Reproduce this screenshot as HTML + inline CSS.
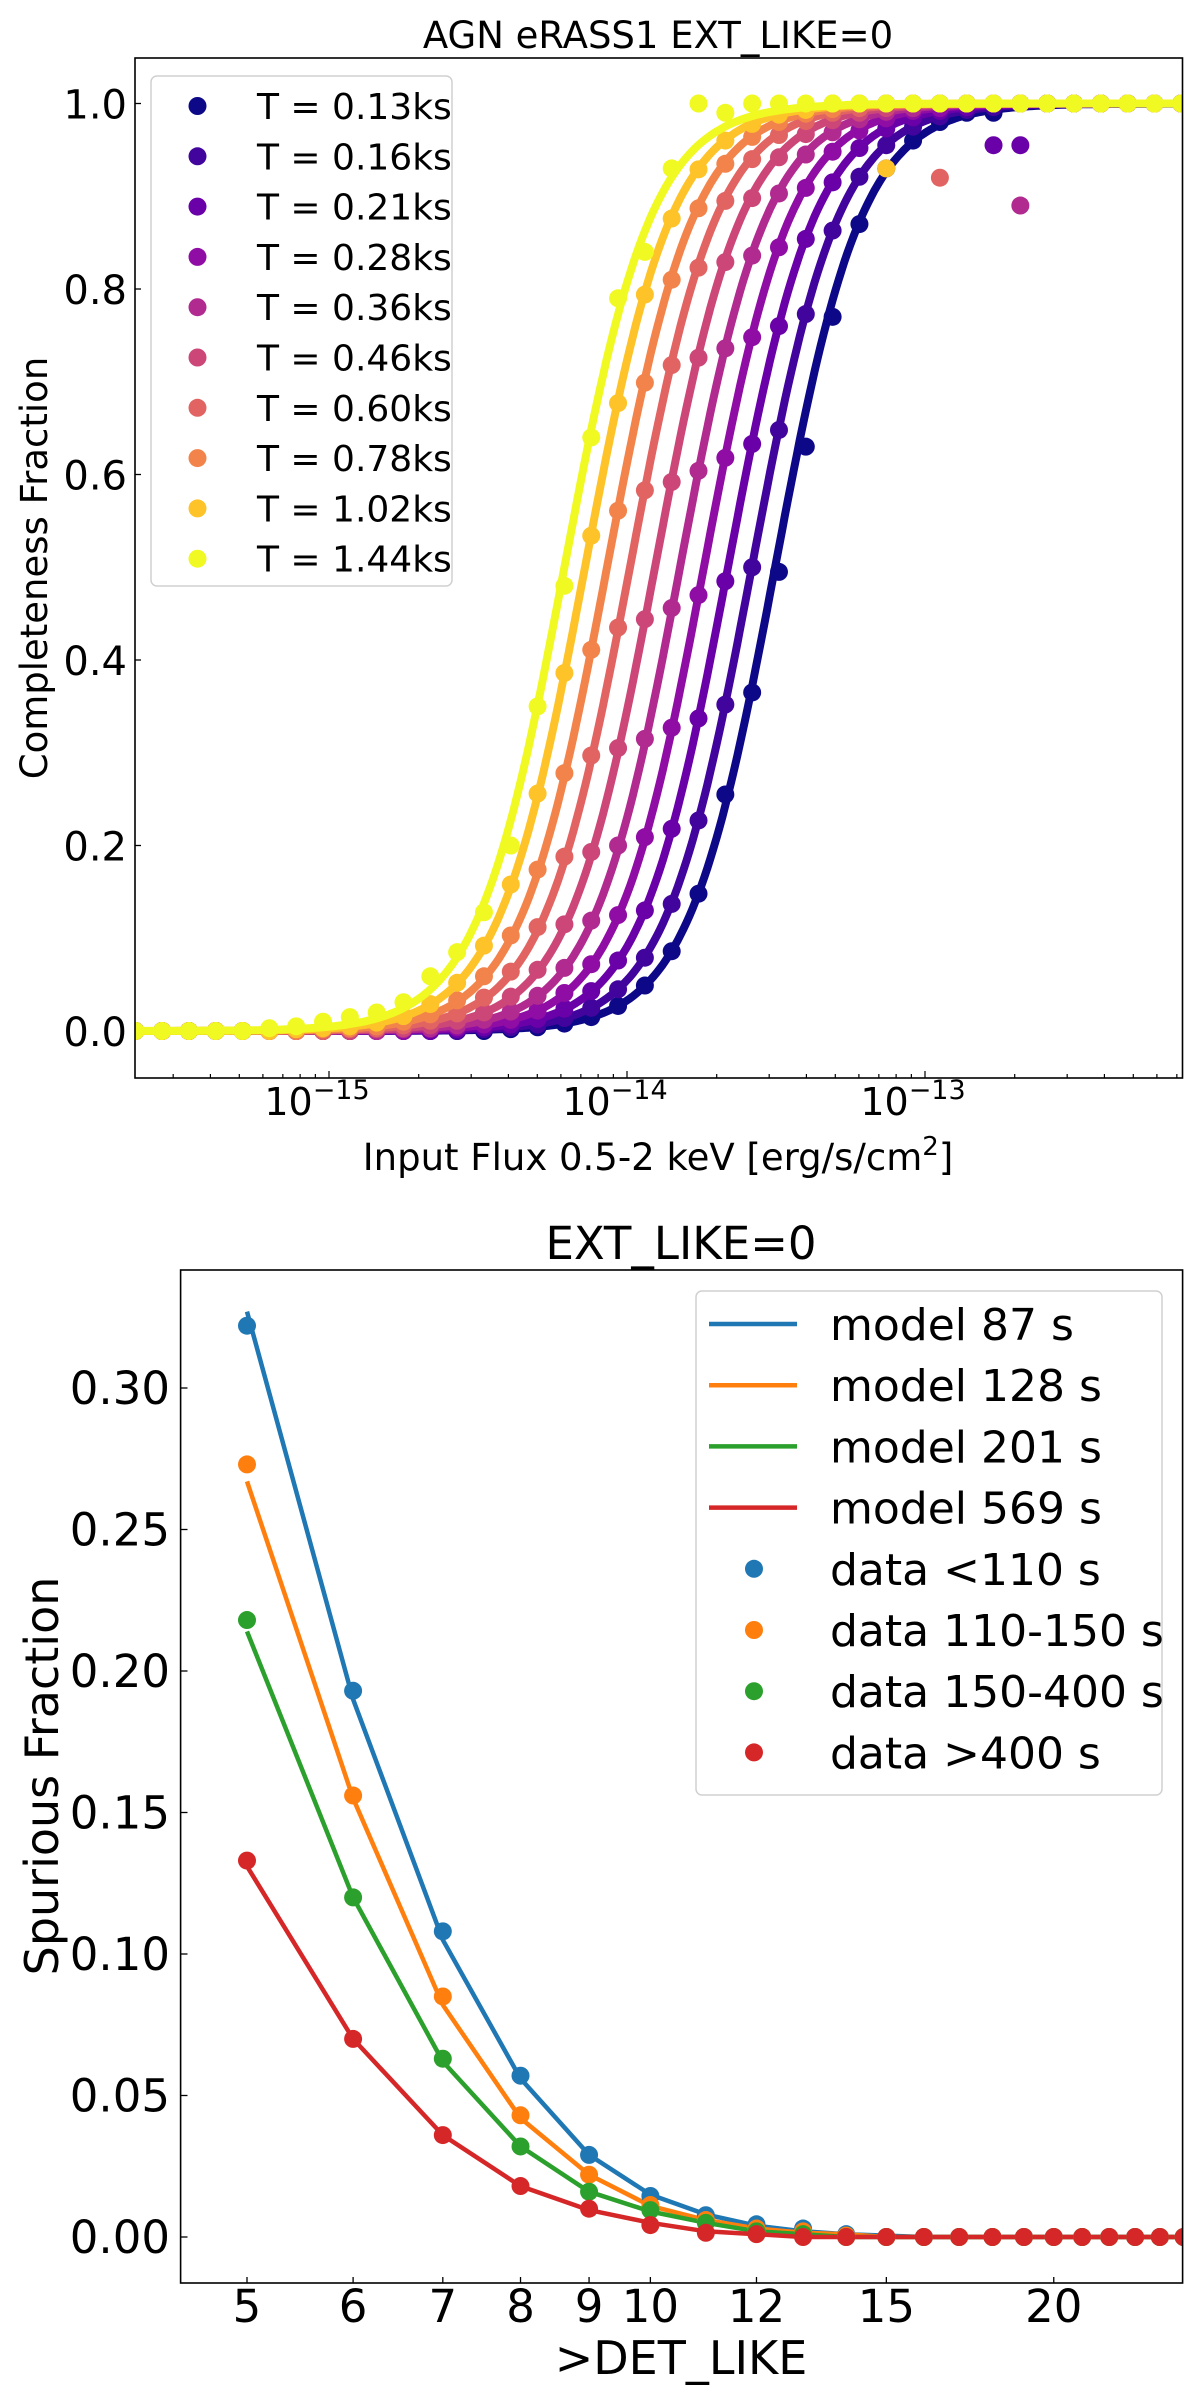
<!DOCTYPE html>
<html><head><meta charset="utf-8"><title>Completeness and spurious fraction</title>
<style>
html,body{margin:0;padding:0;background:#fff;}
svg{display:block;font-family:"DejaVu Sans","Liberation Sans",sans-serif;}
</style></head>
<body>
<svg id="fig" width="1200" height="2405" viewBox="0 0 1200 2405" xmlns="http://www.w3.org/2000/svg">
<defs>
<clipPath id="clip1"><rect x="135" y="58" width="1047.5" height="1020"/></clipPath>
<clipPath id="clip2"><rect x="180.6" y="1270" width="1002" height="1013"/></clipPath>
</defs>
<g id="chart1">
<text x="658" y="48" font-size="37" text-anchor="middle">AGN eRASS1 EXT_LIKE=0</text>
<text transform="translate(47,568) rotate(-90)" font-size="37" text-anchor="middle">Completeness Fraction</text>
<text x="658" y="1170" font-size="37" text-anchor="middle">Input Flux 0.5-2 keV [erg/s/cm<tspan dy="-15" font-size="26">2</tspan><tspan dy="15">]</tspan></text>
<g id="c1ticks"></g>
<g id="c1series" clip-path="url(#clip1)"></g>
<rect x="135" y="58" width="1047.5" height="1020" fill="none" stroke="#000" stroke-width="1.6"/>
<g id="c1legend"></g>
</g>
<g id="chart2">
<text x="681" y="1259" font-size="45" text-anchor="middle">EXT_LIKE=0</text>
<text transform="translate(58,1776) rotate(-90)" font-size="46" text-anchor="middle">Spurious Fraction</text>
<text x="681" y="2374" font-size="46" text-anchor="middle">&gt;DET_LIKE</text>
<g id="c2ticks"></g>
<g id="c2series" clip-path="url(#clip2)"></g>
<rect x="180.6" y="1270" width="1002" height="1013" fill="none" stroke="#000" stroke-width="1.6"/>
<g id="c2legend"></g>
</g>
</svg>
<script>
// ===== Chart 1 data =====
const exposureLabels = ["T = 0.13ks","T = 0.16ks","T = 0.21ks","T = 0.28ks","T = 0.36ks","T = 0.46ks","T = 0.60ks","T = 0.78ks","T = 1.02ks","T = 1.44ks"];
const exposureColors = ["#0d0887","#41049d","#6a00a8","#8f0da4","#b12a90","#cc4778","#e16462","#f2844b","#fdc328","#f0f921"];
const fluxLog = [-15.65,-15.56,-15.47,-15.38,-15.29,-15.20,-15.11,-15.02,-14.93,-14.84,-14.75,-14.66,-14.57,-14.48,-14.39,-14.30,-14.21,-14.12,-14.03,-13.94,-13.85,-13.76,-13.67,-13.58,-13.49,-13.40,-13.31,-13.22,-13.13,-13.04,-12.95,-12.86,-12.77,-12.68,-12.59,-12.50,-12.41,-12.32,-12.23,-12.14];
const compT013 = [0,0,0,0,0,0,0,0,0,0,0,0,0,0,.002,.004,.008,.015,.027,.049,.086,.148,.255,.365,.495,.63,.77,.87,.93,.96,.98,.99,.99,1,1,1,1,1,1,1];
const compT016 = [0,0,0,0,0,0,0,0,0,0,0,0,0,.002,.004,.007,.014,.025,.045,.079,.137,.227,.352,.50,.648,.773,.863,.921,.955,.975,.986,.993,.996,1,1,1,1,1,1,1];
const compT021 = [0,0,0,0,0,0,0,0,0,0,0,0,.002,.004,.007,.013,.024,.043,.076,.13,.218,.337,.485,.633,.76,.854,.915,.952,.973,.985,.992,.996,.955,.955,1,1,1,1,1,1];
const compT028 = [0,0,0,0,0,0,0,0,0,0,0,.002,.004,.007,.012,.022,.041,.072,.125,.209,.327,.47,.618,.748,.845,.909,.948,.971,.984,.992,.995,1,1,1,1,1,1,1,1,1];
const compT036 = [0,0,0,0,0,0,0,0,0,0,.002,.003,.006,.012,.021,.038,.068,.119,.2,.315,.456,.604,.736,.836,.903,.945,.969,.983,.991,.995,1,1,1,.89,1,1,1,1,1,1];
const compT046 = [0,0,0,0,0,0,0,0,0,.002,.003,.006,.011,.02,.037,.066,.115,.193,.305,.444,.592,.726,.829,.898,.942,.967,.982,.99,.995,1,1,1,1,1,1,1,1,1,1,1];
const compT060 = [0,0,0,0,0,0,0,0,.002,.003,.006,.011,.019,.036,.064,.112,.188,.297,.435,.583,.718,.823,.895,.94,.966,.981,.99,.995,1,1,.92,1,1,1,1,1,1,1,1,1];
const compT078 = [0,0,0,0,0,0,0,.002,.003,.005,.01,.018,.033,.059,.103,.174,.278,.411,.561,.699,.81,.887,.935,.964,.98,.989,.994,1,1,1,1,1,1,1,1,1,1,1,1,1];
const compT102 = [0,0,0,0,0,0,.002,.003,.005,.009,.016,.029,.052,.092,.158,.256,.386,.534,.677,.794,.876,.929,.96,.978,.988,.993,1,1,.93,1,1,1,1,1,1,1,1,1,1,1];
const compT144 = [0,0,0,0,0,.003,.005,.01,.015,.02,.031,.059,.085,.128,.2,.35,.48,.64,.79,.84,.93,1,.99,1,1,1,1,1,1,1,1,1,1,1,1,1,1,1,1,1];
const modelCenterLog = [-13.503,-13.581,-13.661,-13.742,-13.822,-13.906,-13.990,-14.067,-14.141,-14.21];
const modelSlope = [6.8,6.8,6.8,6.8,6.8,6.8,6.8,6.8,6.8,6.8];
const yTicks1 = [0.0,0.2,0.4,0.6,0.8,1.0];
const yTickLabels1 = ["0.0","0.2","0.4","0.6","0.8","1.0"];
const xMajorExp1 = [-15,-14,-13];

// ===== Chart 2 data =====
const detLike = [5,6,7,8,9,10,11,12,13,14,15,16,17,18,19,20,21,22,23,24,25];
const modelLabels = ["model 87 s","model 128 s","model 201 s","model 569 s"];
const dataLabels = ["data <110 s","data 110-150 s","data 150-400 s","data >400 s"];
const tabColors = ["#1f77b4","#ff7f0e","#2ca02c","#d62728"];
const spurData110 = [0.322,0.193,0.108,0.057,0.029,0.0145,0.0077,0.0045,0.003,0.001,0,0,0,0,0,0,0,0,0,0,0];
const spurData150 = [0.273,0.156,0.085,0.043,0.022,0.0113,0.006,0.003,0.002,0.0005,0,0,0,0,0,0,0,0,0,0,0];
const spurData400 = [0.218,0.120,0.063,0.032,0.016,0.0095,0.005,0.002,0.001,0,0,0,0,0,0,0,0,0,0,0,0];
const spurDataGt = [0.133,0.070,0.036,0.018,0.010,0.0042,0.0015,0.001,0,0,0,0,0,0,0,0,0,0,0,0,0];
const spurModel87 = [0.327,0.190,0.105,0.056,0.029,0.015,0.008,0.004,0.002,0.001,0.0005,0,0,0,0,0,0,0,0,0,0];
const spurModel128 = [0.267,0.155,0.082,0.042,0.022,0.011,0.006,0.003,0.0015,0.001,0,0,0,0,0,0,0,0,0,0,0];
const spurModel201 = [0.214,0.120,0.062,0.032,0.016,0.009,0.005,0.002,0.001,0,0,0,0,0,0,0,0,0,0,0,0];
const spurModel569 = [0.131,0.070,0.036,0.018,0.0095,0.005,0.002,0.001,0,0,0,0,0,0,0,0,0,0,0,0,0];
const yTicks2 = [0,0.05,0.10,0.15,0.20,0.25,0.30];
const yTickLabels2 = ["0.00","0.05","0.10","0.15","0.20","0.25","0.30"];
const xTicks2 = [5,6,7,8,9,10,12,15,20];
const xTickLabels2 = ["5","6","7","8","9","10","12","15","20"];

const NS = "http://www.w3.org/2000/svg";
function mk(tag, attrs, parent){ const e=document.createElementNS(NS,tag); for(const k in attrs) e.setAttribute(k,attrs[k]); parent.appendChild(e); return e; }

// ----- Chart 1 -----
const x1 = lf => 627 + 298*(lf + 14);
const y1 = v => 1031 - 927.5*v;
const t1 = document.getElementById('c1ticks');
yTicks1.forEach((v,i)=>{
  const tk = mk('line',{x1:135,x2:141,y1:y1(v),y2:y1(v),stroke:'#000','stroke-width':1.3},t1);
  
  
  const tl = mk('text',{x:127,y:y1(v)+15,'font-size':40,'text-anchor':'end'},t1);
  tl.textContent = yTickLabels1[i];
  
  
});
for(let d=-16; d<=-13; d++){
  for(let m=1; m<=9; m++){
    const lf = d + Math.log10(m);
    const xx = x1(lf);
    if(xx<135||xx>1182) continue;
    const len = m===1?7:4;
    const tk = mk('line',{x1:xx,x2:xx,y1:1078,y2:1078-len,stroke:'#000','stroke-width':1.2},t1);
    
    
  }
}
xMajorExp1.forEach(e=>{
  const tl = mk('text',{x:x1(e)-12,y:1115,'font-size':38,'text-anchor':'middle'},t1);
  
  
  tl.innerHTML = '10<tspan dy="-16" font-size="27">\u2212'+Math.abs(e)+'</tspan>';
});
const compSeries = [compT013,compT016,compT021,compT028,compT036,compT046,compT060,compT078,compT102,compT144];
const s1 = document.getElementById('c1series');
compSeries.forEach((arr,si)=>{
  const col = exposureColors[si];
  const g = mk('g',{},s1);
  
  
  let pts=[];
  for(let lf=-15.7; lf<=-12.1; lf+=0.01){
    const v = 1/(1+Math.exp(-modelSlope[si]*(lf-modelCenterLog[si])));
    pts.push(x1(lf).toFixed(1)+','+y1(v).toFixed(1));
  }
  const pl = mk('polyline',{points:pts.join(' '),fill:'none',stroke:col,'stroke-width':8,'stroke-linejoin':'round'},g);
  
  
  arr.forEach((v,i)=>{
    const c = mk('circle',{cx:x1(fluxLog[i]),cy:y1(v),r:9,fill:col},g);
    
    
  });
});
const lg1 = document.getElementById('c1legend');
const lb1 = mk('rect',{x:151,y:76,width:301,height:510,rx:6,fill:'#fff','fill-opacity':0.8,stroke:'#d0d0d0','stroke-width':1.5},lg1);


exposureLabels.forEach((lab,i)=>{
  const yy = 106 + 50.3*i;
  const c = mk('circle',{cx:197.5,cy:yy,r:9,fill:exposureColors[i]},lg1);
  
  
  const t = mk('text',{x:257,y:yy+13,'font-size':36},lg1);
  t.textContent = lab;
  
  
});

// ----- Chart 2 -----
const x2 = v => 247 + 1340*(Math.log10(v) - Math.log10(5));
const y2 = v => 2237 - 2830*v;
const t2 = document.getElementById('c2ticks');
yTicks2.forEach((v,i)=>{
  const tk = mk('line',{x1:180.6,x2:187.5,y1:y2(v),y2:y2(v),stroke:'#000','stroke-width':1.3},t2);
  
  
  const tl = mk('text',{x:170,y:y2(v)+16,'font-size':45,'text-anchor':'end'},t2);
  tl.textContent = yTickLabels2[i];
  
  
});
xTicks2.forEach((v,i)=>{
  const tk = mk('line',{x1:x2(v),x2:x2(v),y1:2283,y2:2277,stroke:'#000','stroke-width':1.3},t2);
  
  
  const tl = mk('text',{x:x2(v),y:2322,'font-size':45,'text-anchor':'middle'},t2);
  tl.textContent = xTickLabels2[i];
  
  
});
const s2 = document.getElementById('c2series');
const modelSets = [spurModel87,spurModel128,spurModel201,spurModel569];
const dataSets = [spurData110,spurData150,spurData400,spurDataGt];
modelSets.forEach((arr,si)=>{
  const pts = arr.map((v,i)=>x2(detLike[i]).toFixed(1)+','+y2(v).toFixed(1)).join(' ');
  const pl = mk('polyline',{points:pts,fill:'none',stroke:tabColors[si],'stroke-width':4.5,'stroke-linejoin':'round'},s2);
  
  
});
dataSets.forEach((arr,si)=>{
  arr.forEach((v,i)=>{
    const c = mk('circle',{cx:x2(detLike[i]),cy:y2(v),r:9,fill:tabColors[si]},s2);
    
    
  });
});
const lg2 = document.getElementById('c2legend');
const lb2 = mk('rect',{x:696,y:1291,width:466,height:504,rx:6,fill:'#fff','fill-opacity':0.8,stroke:'#d0d0d0','stroke-width':1.5},lg2);


modelLabels.forEach((lab,i)=>{
  const yy = 1324 + 61.2*i;
  const l = mk('line',{x1:709,x2:797,y1:yy,y2:yy,stroke:tabColors[i],'stroke-width':4.5},lg2);
  
  
  const t = mk('text',{x:830,y:yy+16,'font-size':44},lg2);
  t.textContent = lab;
  
  
});
dataLabels.forEach((lab,i)=>{
  const yy = 1324 + 61.2*(i+4);
  const c = mk('circle',{cx:754,cy:yy,r:9,fill:tabColors[i]},lg2);
  
  
  const t = mk('text',{x:830,y:yy+16,'font-size':44},lg2);
  t.textContent = lab;
  
  
});
</script>
</body></html>
